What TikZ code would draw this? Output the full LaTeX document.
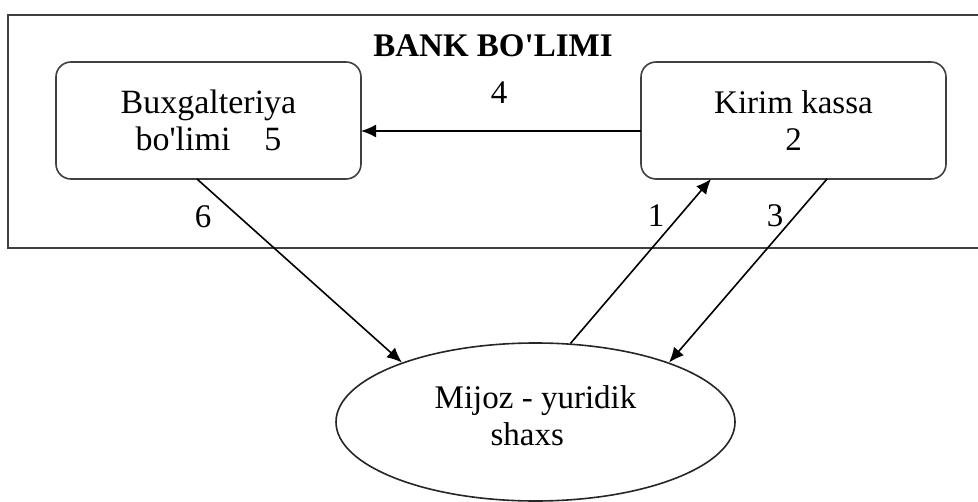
\documentclass[tikz,border=0pt]{standalone}
\usepackage{fontspec}
\setmainfont{Liberation Serif}[Ligatures=TeXOff]
\usetikzlibrary{shapes.geometric,arrows.meta}
\begin{document}
\begin{tikzpicture}[x=0.5pt,y=-0.5pt,
  font=\fontsize{16.5}{18.5}\selectfont,
  frame/.style={draw=black!75, line width=0.8pt, inner sep=0pt, outer sep=0pt},
  box/.style={draw=black!75, line width=0.8pt, rounded corners=7.5pt,
    minimum width=152.5pt, minimum height=58.5pt, align=center, inner sep=0pt, outer sep=0pt},
  arr/.style={line width=0.8pt, -{Latex[length=7.5pt,width=6.5pt]}},
  lbl/.style={inner sep=0pt}]
\useasboundingbox (0,0) rectangle (978,502);
\clip (0,0) rectangle (978,502);
\node[frame, minimum width=491pt, minimum height=116.5pt, anchor=north west] (bank) at (8,15) {};
\node[lbl, font=\fontsize{16.5}{18.5}\selectfont\bfseries] (title) at (493,46) {BANK BO'LIMI};
\node[box, font=\fontsize{17}{18.5}\selectfont] (bux) at (208.5,120.5) {Buxgalteriya\\bo'limi\hspace{1em}5};
\node[box] (kirim) at (793.5,120.5) {Kirim kassa\\2};
\node[ellipse, draw=black!85, line width=0.8pt, minimum width=199.5pt, minimum height=79pt,
  inner sep=0pt,
  label={[lbl, align=center, yshift=3pt]center:Mijoz - yuridik\\shaxs\hspace*{0.5em}}] (mijoz) at (535.5,422) {};
\draw[arr] ([yshift=-5.25pt]kirim.west) -- ([yshift=-5.25pt]bux.east);
\draw[arr] ([xshift=-5.75pt]bux.south) -- (mijoz.156);
\draw[arr] (mijoz.66) -- ([xshift=-41.25pt]kirim.south);
\draw[arr] ([xshift=16.75pt]kirim.south) -- (mijoz.24);
\node[lbl] (n4) at (499,93) {4};
\node[lbl] (n6) at (203,217) {6};
\node[lbl] (n1) at (656,216) {1};
\node[lbl] (n3) at (775,216) {3};
\end{tikzpicture}
\end{document}
